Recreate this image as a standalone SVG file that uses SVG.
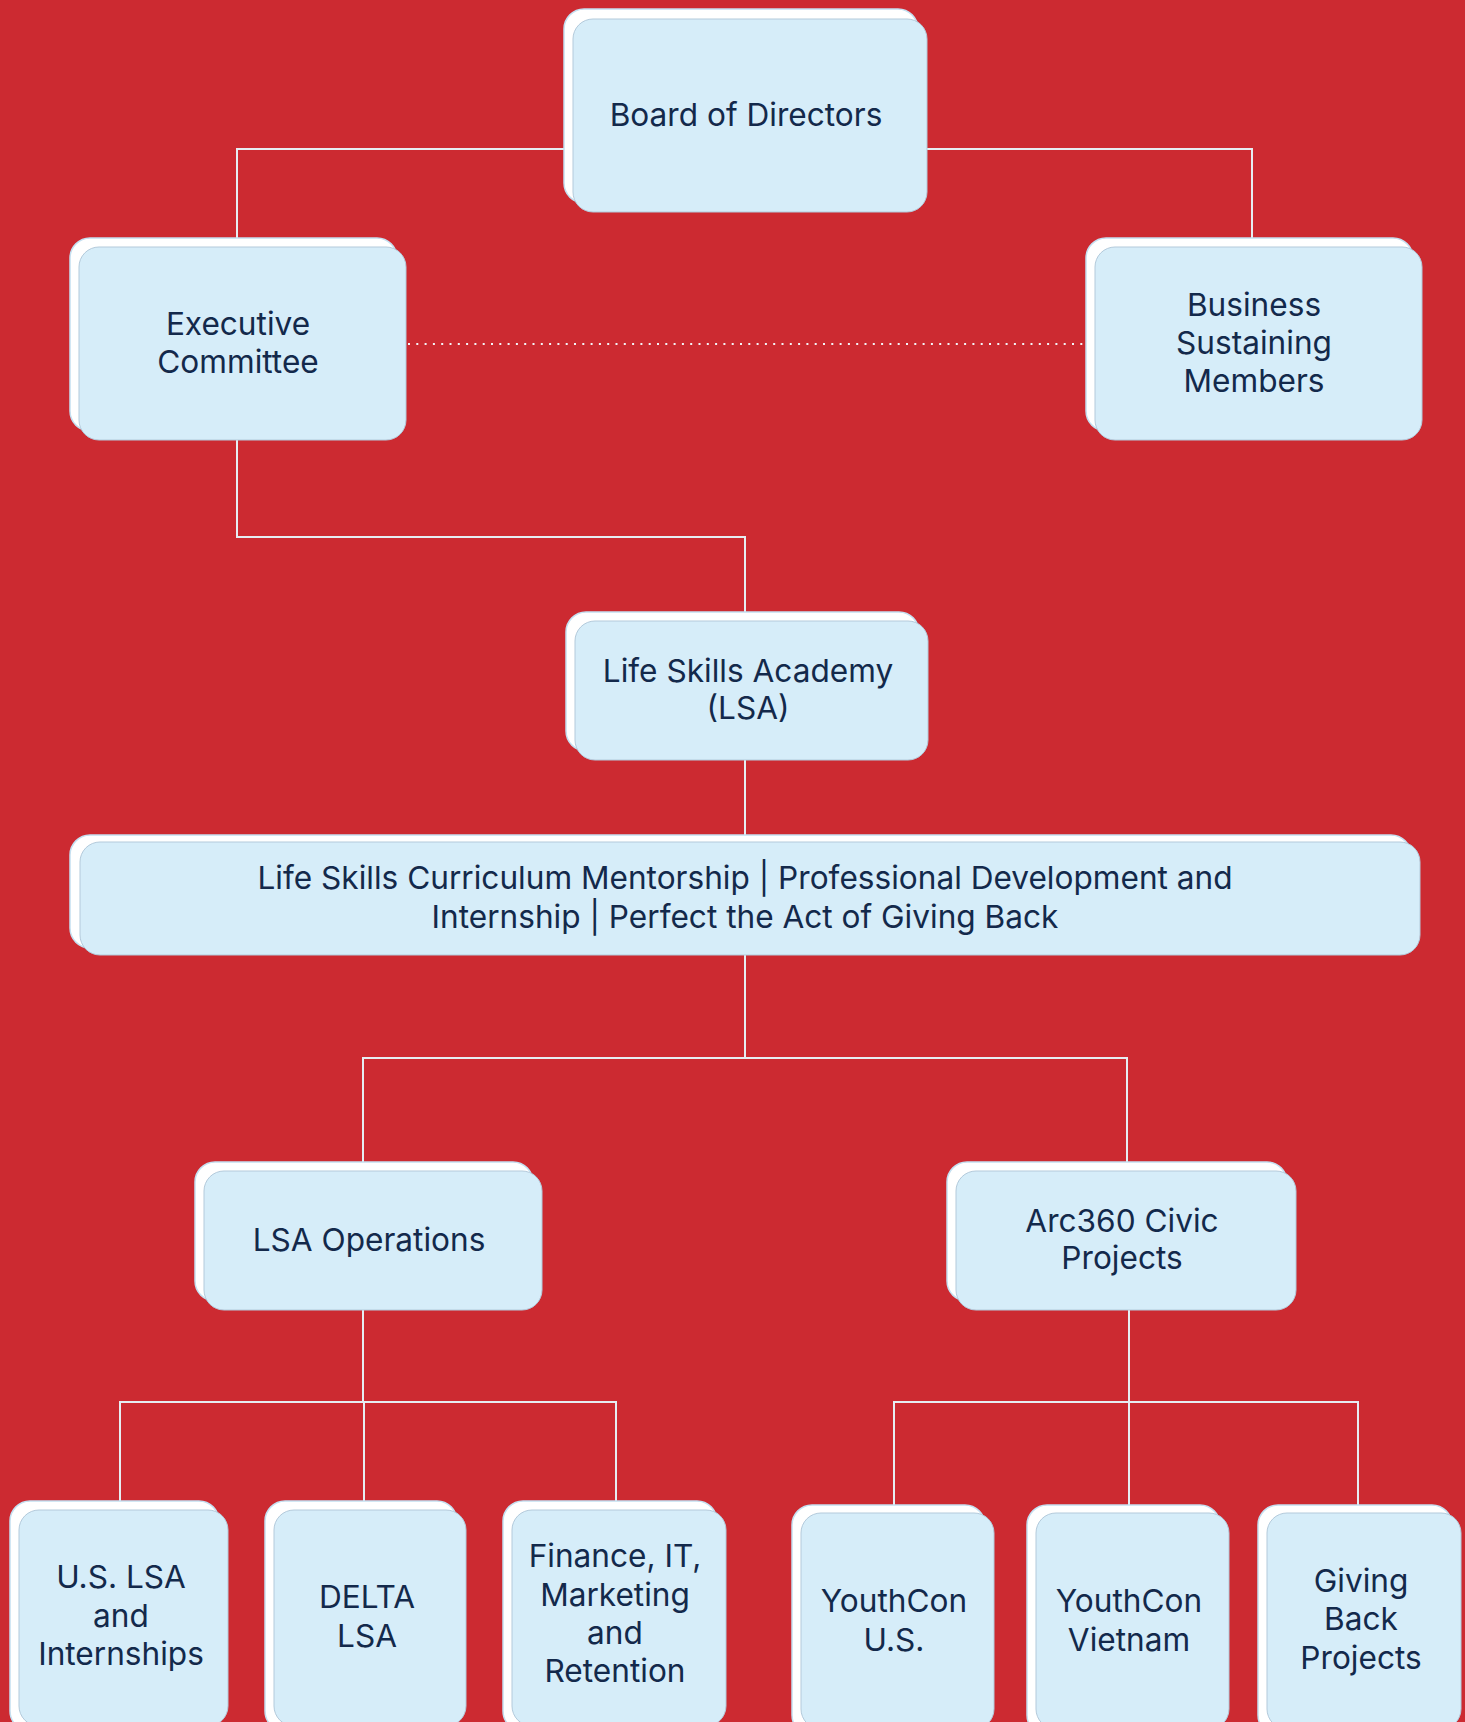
<svg xmlns="http://www.w3.org/2000/svg" width="1465" height="1722" viewBox="0 0 1465 1722">
<style>
.bk{fill:#ffffff;stroke:#c4e0f1;stroke-width:1.5}
.fr{fill:#d6edf9;stroke:#b3cadb;stroke-width:1}
.t{font-family:Inter,"Liberation Sans",sans-serif;font-size:31.6px;fill:#13294b;text-anchor:middle}
.ln{fill:none;stroke:#e6edf2;stroke-width:2}
.dot{fill:none;stroke:#f2f5f8;stroke-width:2;stroke-dasharray:2 6.3}
</style>
<rect width="1465" height="1722" fill="#cc2a31"/>
<g id="connectors">
<path class="ln" d="M237 238 V149 H1252 V238"/>
<path class="dot" d="M408 344 H1086"/>
<path class="ln" d="M237 440 V537 H745 V612"/>
<path class="ln" d="M745 760 V835"/>
<path class="ln" d="M745 955 V1058 H363 V1162 M745 1058 H1127 V1162"/>
<path class="ln" d="M363 1310 V1402 M120 1501 V1402 H616 V1501 M364 1402 V1501"/>
<path class="ln" d="M1129 1310 V1402 M894 1505 V1402 H1358 V1505 M1129 1402 V1505"/>
</g>
<g id="board">
<rect class="bk" x="564" y="9" width="354" height="194" rx="20"/>
<rect class="fr" x="573" y="19" width="354" height="193" rx="20"/>
<text class="t" x="746" y="126">Board of Directors</text>
</g>
<g id="exec">
<rect class="bk" x="70" y="238" width="327" height="193" rx="20"/>
<rect class="fr" x="79" y="247" width="327" height="193" rx="20"/>
<text class="t" x="238" y="335">Executive</text>
<text class="t" x="238" y="373">Committee</text>
</g>
<g id="business">
<rect class="bk" x="1086" y="238" width="327" height="193" rx="20"/>
<rect class="fr" x="1095" y="247" width="327" height="193" rx="20"/>
<text class="t" x="1254" y="316">Business</text>
<text class="t" x="1254" y="354">Sustaining</text>
<text class="t" x="1254" y="392">Members</text>
</g>
<g id="lsa">
<rect class="bk" x="566" y="612" width="353" height="139" rx="20"/>
<rect class="fr" x="575" y="621" width="353" height="139" rx="20"/>
<text class="t" x="748" y="682">Life Skills Academy</text>
<text class="t" x="748" y="719">(LSA)</text>
</g>
<g id="curriculum">
<rect class="bk" x="70" y="835" width="1341" height="113" rx="20"/>
<rect class="fr" x="80" y="842" width="1340" height="113" rx="20"/>
<text class="t" x="745" y="889">Life Skills Curriculum Mentorship | Professional Development and</text>
<text class="t" x="745" y="928">Internship | Perfect the Act of Giving Back</text>
</g>
<g id="lsaops">
<rect class="bk" x="195" y="1162" width="338" height="139" rx="20"/>
<rect class="fr" x="204" y="1171" width="338" height="139" rx="20"/>
<text class="t" x="369" y="1251">LSA Operations</text>
</g>
<g id="arc360">
<rect class="bk" x="947" y="1162" width="340" height="139" rx="20"/>
<rect class="fr" x="956" y="1171" width="340" height="139" rx="20"/>
<text class="t" x="1122" y="1232">Arc360 Civic</text>
<text class="t" x="1122" y="1269">Projects</text>
</g>
<g id="uslsa">
<rect class="bk" x="10" y="1501" width="209" height="230" rx="20"/>
<rect class="fr" x="19" y="1510" width="209" height="216" rx="20"/>
<text class="t" x="121" y="1588">U.S. LSA</text>
<text class="t" x="121" y="1627">and</text>
<text class="t" x="121" y="1665">Internships</text>
</g>
<g id="delta">
<rect class="bk" x="265" y="1501" width="192" height="230" rx="20"/>
<rect class="fr" x="274" y="1510" width="192" height="216" rx="20"/>
<text class="t" x="367" y="1608">DELTA</text>
<text class="t" x="367" y="1647">LSA</text>
</g>
<g id="finance">
<rect class="bk" x="503" y="1501" width="214" height="230" rx="20"/>
<rect class="fr" x="512" y="1510" width="214" height="216" rx="20"/>
<text class="t" x="615" y="1567">Finance, IT,</text>
<text class="t" x="615" y="1606">Marketing</text>
<text class="t" x="615" y="1644">and</text>
<text class="t" x="615" y="1682">Retention</text>
</g>
<g id="youthconus">
<rect class="bk" x="792" y="1505" width="193" height="230" rx="20"/>
<rect class="fr" x="801" y="1513" width="193" height="216" rx="20"/>
<text class="t" x="894" y="1612">YouthCon</text>
<text class="t" x="894" y="1651">U.S.</text>
</g>
<g id="youthconvn">
<rect class="bk" x="1027" y="1505" width="193" height="230" rx="20"/>
<rect class="fr" x="1036" y="1513" width="193" height="216" rx="20"/>
<text class="t" x="1129" y="1612">YouthCon</text>
<text class="t" x="1129" y="1651">Vietnam</text>
</g>
<g id="givingback">
<rect class="bk" x="1258" y="1505" width="194" height="230" rx="20"/>
<rect class="fr" x="1267" y="1513" width="194" height="216" rx="20"/>
<text class="t" x="1361" y="1592">Giving</text>
<text class="t" x="1361" y="1630">Back</text>
<text class="t" x="1361" y="1669">Projects</text>
</g>
</svg>
